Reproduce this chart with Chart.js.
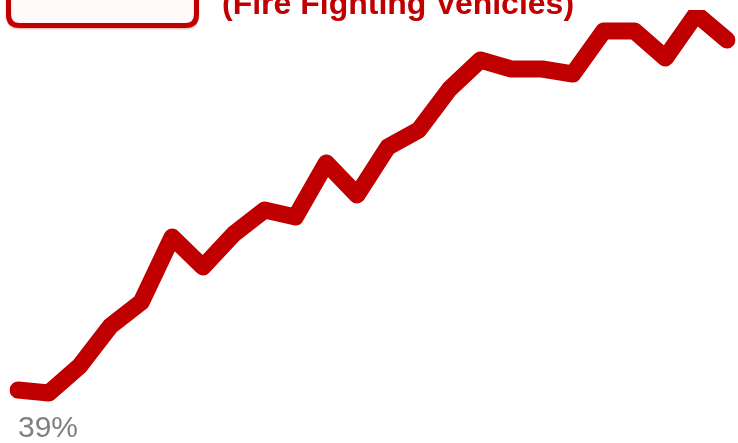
<!DOCTYPE html>
<html>
<head>
<meta charset="utf-8">
<script src="https://cdn.jsdelivr.net/npm/chart.js@4/dist/chart.umd.min.js"></script>
<style>
  html, body { margin: 0; padding: 0; background: #ffffff; }
  #wrap { position: relative; width: 738px; height: 443px; }
</style>
</head>
<body>
<div id="wrap"><canvas id="c" width="738" height="443"></canvas></div>
<script>
const categories = ["1","2","3","4","5","6","7","8","9","10","11","12","13","14","15","16","17","18","19","20","21","22","23","24"];
const shareValues = [39.0, 38.7, 41.4, 45.4, 47.8, 54.3, 51.3, 54.6, 57.0, 56.3, 61.7, 58.5, 63.3, 65.0, 69.1, 72.0, 71.1, 71.1, 70.6, 74.9, 74.9, 72.2, 76.6, 74.0];
const titleText = "(Fire Fighting Vehicles)";
const firstLabel = "39%";

const decorPlugin = {
  id: 'decor',
  beforeDatasetsDraw(chart) {
    const ctx = chart.ctx;
    ctx.save();
    // partially visible rounded box at top-left
    const x = 8.5, y = -40, w = 188, h = 65.5, r = 11;
    ctx.beginPath();
    ctx.moveTo(x + r, y);
    ctx.lineTo(x + w - r, y);
    ctx.quadraticCurveTo(x + w, y, x + w, y + r);
    ctx.lineTo(x + w, y + h - r);
    ctx.quadraticCurveTo(x + w, y + h, x + w - r, y + h);
    ctx.lineTo(x + r, y + h);
    ctx.quadraticCurveTo(x, y + h, x, y + h - r);
    ctx.lineTo(x, y + r);
    ctx.quadraticCurveTo(x, y, x + r, y);
    ctx.closePath();
    ctx.shadowColor = 'rgba(192,0,0,0.18)';
    ctx.shadowBlur = 4;
    ctx.shadowOffsetY = 2;
    ctx.fillStyle = '#fff9f9';
    ctx.fill();
    ctx.shadowColor = 'rgba(192,0,0,0.25)';
    ctx.shadowBlur = 2;
    ctx.shadowOffsetY = 1;
    ctx.lineWidth = 5;
    ctx.strokeStyle = '#c00000';
    ctx.stroke();
    ctx.shadowColor = 'transparent';
    // title text
    ctx.font = 'bold 32px "Liberation Sans", Arial, sans-serif';
    ctx.fillStyle = '#c00000';
    ctx.textAlign = 'left';
    ctx.textBaseline = 'alphabetic';
    ctx.fillText(titleText, 222, 14);
    ctx.restore();
  },
  afterDatasetsDraw(chart) {
    const ctx = chart.ctx;
    const meta = chart.getDatasetMeta(0);
    const p = meta.data[0];
    ctx.save();
    ctx.font = '30px "Liberation Sans", Arial, sans-serif';
    ctx.fillStyle = '#808080';
    ctx.textAlign = 'left';
    ctx.textBaseline = 'alphabetic';
    ctx.fillText(firstLabel, p.x, 437);
    ctx.restore();
  }
};

new Chart(document.getElementById('c'), {
  type: 'line',
  data: {
    labels: categories,
    datasets: [{
      data: shareValues,
      borderColor: '#c00000',
      backgroundColor: '#c00000',
      borderWidth: 17,
      borderCapStyle: 'round',
      borderJoinStyle: 'round',
      tension: 0,
      pointRadius: 0,
      pointHoverRadius: 0,
      fill: false
    }]
  },
  options: {
    responsive: false,
    animation: false,
    events: [],
    layout: { padding: { left: 18, right: 11, top: 10, bottom: 33 } },
    plugins: { legend: { display: false }, tooltip: { enabled: false }, title: { display: false } },
    scales: {
      x: { display: false, offset: false },
      y: { display: false, min: 37, max: 77 }
    }
  },
  plugins: [decorPlugin]
});
</script>
</body>
</html>
